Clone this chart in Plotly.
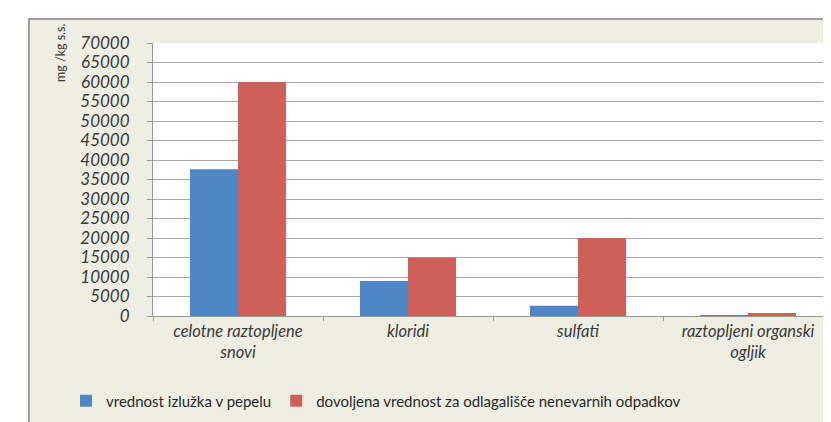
import plotly.graph_objects as go

categories = ["celotne raztopljene<br>snovi", "kloridi", "sulfati", "raztopljeni organski<br>ogljik"]
series_names = ["vrednost izlužka v pepelu", "dovoljena vrednost za odlagališče nenevarnih odpadkov"]
ash_values = [37600, 9000, 2600, 150]
limit_values = [60000, 15000, 20000, 800]
y_ticks = list(range(0, 70001, 5000))

W, H = 831, 422
L, R, T, B = 145, 6, 35, 114
pw = W - L - R
ph = H - T - B

def px2x(p):
    return (p - L) / pw

def py2y(p):
    return (H - B - p) / ph

beige = "#eeeee3"

fig = go.Figure()
fig.add_trace(go.Bar(x=categories, y=ash_values, name=series_names[0],
                     marker=dict(color="#4f87c6", line=dict(width=0))))
fig.add_trace(go.Bar(x=categories, y=limit_values, name=series_names[1],
                     marker=dict(color="#cf5f59", line=dict(width=0))))

fig.update_layout(
    width=W, height=H,
    margin=dict(l=L, r=R, t=T, b=B),
    paper_bgcolor=beige,
    plot_bgcolor="white",
    barmode="group",
    bargap=0.435,
    bargroupgap=0,
    font=dict(family="Lato", color="#3a3a3a"),
    showlegend=True,
    legend=dict(orientation="h", x=px2x(58), xanchor="left", y=py2y(393), yanchor="middle",
                font=dict(size=15, color="#2a2a2a"), bgcolor="rgba(0,0,0,0)",
                itemwidth=30, traceorder="normal"),
    xaxis=dict(showgrid=False, showline=True, linecolor="#9a9a9a", linewidth=1,
               ticks="outside", tickson="boundaries", ticklen=4, tickcolor="#9a9a9a",
               tickfont=dict(size=16.5, style="italic", color="#3a3a3a", family="Lato")),
    yaxis=dict(range=[0, 70000], tickmode="array", tickvals=y_ticks, tickformat="d",
               showgrid=True, gridcolor="#a8a8a8", gridwidth=1,
               showline=True, linecolor="#9a9a9a", linewidth=1,
               ticks="outside", ticklen=5, tickcolor="#9a9a9a",
               ticklabelstandoff=14,
               tickfont=dict(size=17, style="italic", color="#3a3a3a", family="Lato"),
               zeroline=False),
    shapes=[
        dict(type="rect", xref="paper", yref="paper", x0=px2x(0), x1=px2x(W), y0=py2y(10), y1=py2y(0),
             fillcolor="white", line=dict(width=0), layer="below"),
        dict(type="rect", xref="paper", yref="paper", x0=px2x(0), x1=px2x(20), y0=py2y(H), y1=py2y(0),
             fillcolor="white", line=dict(width=0), layer="below"),
        dict(type="line", xref="paper", yref="paper", x0=px2x(20), x1=px2x(W), y0=py2y(11), y1=py2y(11),
             line=dict(color="#a0a096", width=2), layer="below"),
        dict(type="line", xref="paper", yref="paper", x0=px2x(21), x1=px2x(21), y0=py2y(H), y1=py2y(10),
             line=dict(color="#a0a096", width=2), layer="below"),
    ],
    annotations=[
        dict(text="mg /kg s.s.", xref="paper", yref="paper", x=px2x(52), y=py2y(14),
             xanchor="center", yanchor="top", textangle=-90, showarrow=False,
             font=dict(size=12.5, color="#3a3a3a", family="Lato")),
    ],
)

fig.write_html("out.html")
